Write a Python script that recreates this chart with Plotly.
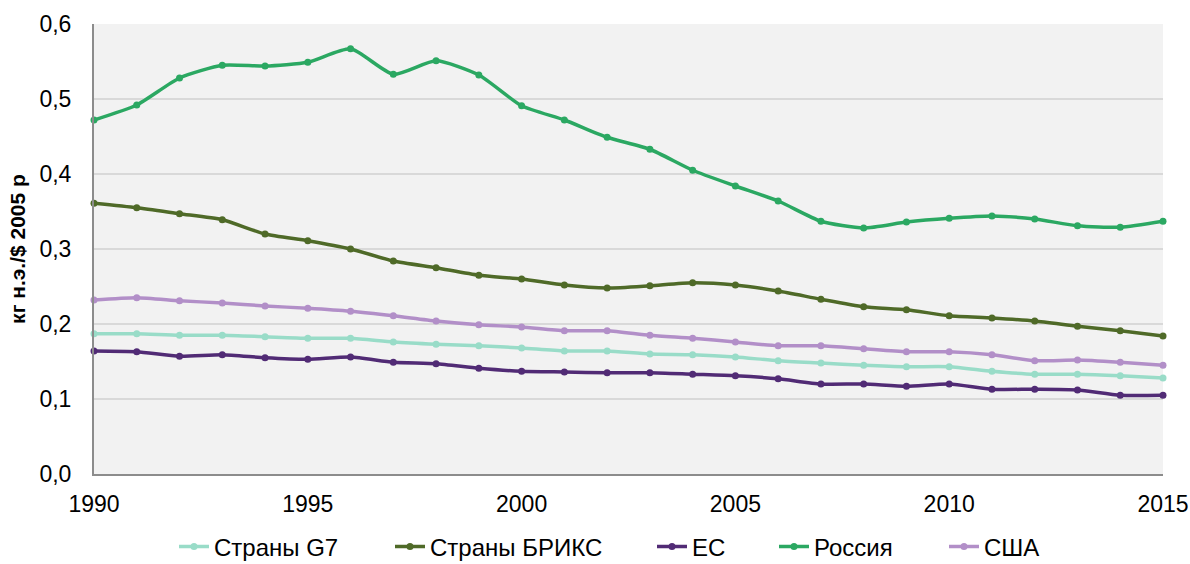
import plotly.graph_objects as go

years = list(range(1990, 2016))

g7 = [0.187, 0.187, 0.185, 0.185, 0.183, 0.181, 0.181, 0.176, 0.173, 0.171,
      0.168, 0.164, 0.164, 0.160, 0.159, 0.156, 0.151, 0.148, 0.145, 0.143,
      0.143, 0.137, 0.133, 0.133, 0.131, 0.128]
brics = [0.361, 0.355, 0.347, 0.339, 0.320, 0.311, 0.300, 0.284, 0.275, 0.265,
         0.260, 0.252, 0.248, 0.251, 0.255, 0.252, 0.244, 0.233, 0.223, 0.219,
         0.211, 0.208, 0.204, 0.197, 0.191, 0.184]
eu = [0.164, 0.163, 0.157, 0.159, 0.155, 0.153, 0.156, 0.149, 0.147, 0.141,
      0.137, 0.136, 0.135, 0.135, 0.133, 0.131, 0.127, 0.120, 0.120, 0.117,
      0.120, 0.113, 0.113, 0.112, 0.105, 0.105]
russia = [0.472, 0.492, 0.528, 0.545, 0.544, 0.549, 0.567, 0.533, 0.551, 0.532,
          0.491, 0.472, 0.449, 0.433, 0.405, 0.384, 0.364, 0.337, 0.328, 0.336,
          0.341, 0.344, 0.340, 0.331, 0.329, 0.337]
usa = [0.232, 0.235, 0.231, 0.228, 0.224, 0.221, 0.217, 0.211, 0.204, 0.199,
       0.196, 0.191, 0.191, 0.185, 0.181, 0.176, 0.171, 0.171, 0.167, 0.163,
       0.163, 0.159, 0.151, 0.152, 0.149, 0.145]

series = [
    ("Страны G7", g7, "#99dcc8"),
    ("Страны БРИКС", brics, "#4f6a28"),
    ("ЕС", eu, "#512b75"),
    ("Россия", russia, "#2ba862"),
    ("США", usa, "#b28fc8"),
]

# left edge (px) of each legend entry along the bottom row
legend_left = [174, 390, 652, 774, 944]

y_ticks = [0.0, 0.1, 0.2, 0.3, 0.4, 0.5, 0.6]
x_ticks = [1990, 1995, 2000, 2005, 2010, 2015]

W, H = 1190, 564
font = "Liberation Sans, Arial, sans-serif"

fig = go.Figure()
legends = {}
for i, (name, vals, color) in enumerate(series):
    key = "legend" if i == 0 else f"legend{i + 1}"
    fig.add_trace(go.Scatter(
        x=years, y=vals, name=name, mode="lines+markers",
        line=dict(color=color, width=3.5, shape="spline", smoothing=0.6),
        marker=dict(color=color, size=7),
        cliponaxis=False, legend=key,
    ))
    legends[key] = dict(
        orientation="h", x=legend_left[i] / W, xanchor="left", xref="container",
        y=17 / H, yanchor="middle", yref="container",
        font=dict(size=24, color="#000000"), bgcolor="rgba(0,0,0,0)",
        itemwidth=30,
    )

fig.update_layout(
    width=W, height=H,
    margin=dict(l=94, r=27, t=24, b=90, autoexpand=False),
    paper_bgcolor="white",
    plot_bgcolor="#f2f2f2",
    separators=", ",
    font=dict(family=font, size=22, color="#000000"),
    showlegend=True,
    xaxis=dict(
        range=[1990, 2015], tickvals=x_ticks, ticktext=[str(v) for v in x_ticks],
        showgrid=False, zeroline=False, showline=True, linecolor="#8c8c8c",
        linewidth=2, ticks="", ticklabelstandoff=8, automargin=False,
        tickfont=dict(size=23),
    ),
    yaxis=dict(
        range=[0, 0.6], tickvals=y_ticks, tickformat=".1f",
        showgrid=True, gridcolor="#d9d9d9", gridwidth=2, zeroline=False,
        showline=True, linecolor="#8c8c8c", linewidth=2, ticks="",
        ticklabelstandoff=16, automargin=False, tickfont=dict(size=23),
        title=dict(text="<b>кг н.э./$ 2005 р</b>", font=dict(size=21), standoff=8),
    ),
    **legends,
)

fig.write_html("out.html")
